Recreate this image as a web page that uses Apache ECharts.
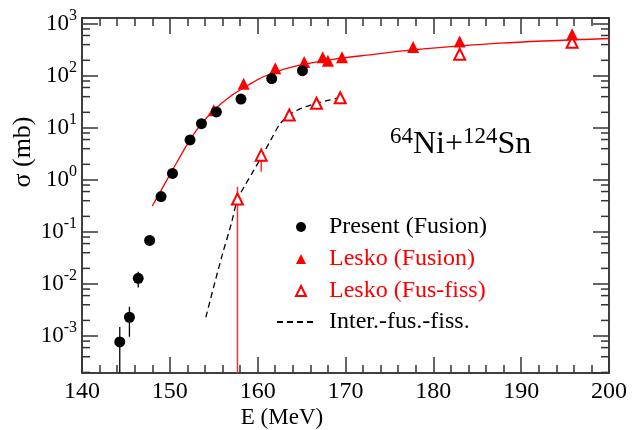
<!DOCTYPE html>
<html>
<head>
<meta charset="utf-8">
<script src="https://cdn.jsdelivr.net/npm/echarts@6/dist/echarts.min.js"></script>
<style>
  html, body { margin: 0; padding: 0; background: #fff; }
  #chart { width: 642px; height: 430px; }
</style>
</head>
<body>
<div id="chart"></div>
<script>
const FONT = 'Liberation Serif';

// Present (Fusion) - black circles
const presentE = [144.3, 145.4, 146.4, 147.7, 149.0, 150.3, 152.3, 153.6, 155.3, 158.1, 161.6, 165.1];
const presentSigma = [7.7e-4, 2.3e-3, 1.29e-2, 0.069, 0.48, 1.34, 5.9, 12.1, 20.3, 36, 89, 126];
// error bars of the lowest points (lower end of the first one runs off the axis)
const presentErrE = [144.3, 145.4, 146.4];
const presentErrLo = [1e-6, 9.7e-4, 8.6e-3];
const presentErrHi = [1.5e-3, 3.66e-3, 1.73e-2];

// Lesko (Fusion) - filled red triangles
const leskoFusE = [155.0, 158.4, 162.0, 165.3, 167.4, 168.0, 169.6, 177.7, 183.0, 195.8];
const leskoFusSigma = [22, 71, 141, 185, 229, 196, 229, 362, 458, 634];

// Lesko (Fus-fiss) - open red triangles
const leskoFFE = [157.7, 160.4, 163.6, 166.7, 169.4, 183.0, 195.8];
const leskoFFSigma = [0.43, 3.0, 17.8, 29.9, 38, 261, 444];
const leskoFFErrE = [157.7, 160.4];
const leskoFFErrLo = [1e-6, 1.44];
const leskoFFErrHi = [0.74, 4.07];

// red solid curve (fusion calc)
const fitE = [148, 149, 150, 151, 152, 153, 154, 155, 156, 157, 158, 159, 160, 161, 162, 163, 164.8, 168.6, 172.4, 177.7, 187.6, 200];
const fitSigma = [0.316, 0.631, 1.26, 2.51, 4.90, 8.91, 14.5, 21.9, 30.9, 41.7, 53.7, 67.6, 85.1, 102, 117, 135, 162, 209, 251, 316, 427, 525];

// dashed curve (Inter.-fus.-fiss.)
const interE = [154.1, 155, 156, 157, 157.7, 158.5, 159.5, 160.5, 161.5, 162.5, 163.5, 164.5, 165.5, 166.7, 168, 169.75];
const interSigma = [2.3e-3, 8.9e-3, 0.038, 0.145, 0.42, 0.76, 1.48, 2.9, 5.9, 11.7, 17.4, 21.9, 25.7, 29.9, 33.9, 39.8];

// axis
const X_MIN = 140, X_MAX = 200;
const Y_MIN = 1.95e-4, Y_MAX = 1300;
const minorMult = [2, 4, 6, 8];
const decades = [1e-4, 1e-3, 1e-2, 1e-1, 1, 10, 100];

const zip = (a, b) => a.map((v, i) => [v, b[i]]);
const zip3 = (a, b, c) => a.map((v, i) => [v, b[i], c[i]]);

// minor ticks of the log axis at 2,4,6,8 x 10^n
let minorTicks = [];
decades.forEach(d => minorMult.forEach(m => {
  const v = m * d;
  if (v >= Y_MIN && v <= Y_MAX) minorTicks.push([v]);
}));

function errorBar(color, width) {
  return function (params, api) {
    const p1 = api.coord([api.value(0), api.value(1)]);
    const p2 = api.coord([api.value(0), api.value(2)]);
    return {
      type: 'line',
      shape: { x1: p1[0], y1: p1[1], x2: p2[0], y2: p2[1] },
      style: { stroke: color, lineWidth: width }
    };
  };
}

const axisLineStyle = { color: '#000', width: 1.5 };
const tickStyle = { color: '#333', width: 1.5 };

const xAxisBase = {
  type: 'value', min: X_MIN, max: X_MAX, interval: 10,
  axisLine: { lineStyle: axisLineStyle },
  axisTick: { inside: true, length: 16, lineStyle: tickStyle },
  minorTick: { show: true, splitNumber: 5, length: 8, lineStyle: tickStyle },
  splitLine: { show: false },
  minorSplitLine: { show: false }
};

const yAxisBase = {
  type: 'log', logBase: 10, min: Y_MIN, max: Y_MAX,
  axisLine: { lineStyle: axisLineStyle },
  axisTick: { inside: true, length: 16, lineStyle: tickStyle },
  splitLine: { show: false }
};

const legendBase = {
  orient: 'vertical', padding: 0, itemHeight: 10, itemGap: 8,
  selectedMode: false, symbolKeepAspect: true
};

const chart = echarts.init(document.getElementById('chart'));

chart.setOption({
  animation: false,
  grid: { left: 82, right: 33, top: 18, bottom: 57, outerBoundsMode: 'none' },
  xAxis: [
    Object.assign({}, xAxisBase, {
      position: 'bottom',
      axisLabel: { margin: 7, color: '#000', fontFamily: FONT, fontSize: 24 }
    }),
    Object.assign({}, xAxisBase, { position: 'top', axisLabel: { show: false } })
  ],
  yAxis: [
    Object.assign({}, yAxisBase, {
      position: 'left',
      axisLabel: {
        margin: 5,
        showMinLabel: false,
        showMaxLabel: false,
        fontFamily: FONT,
        formatter: v => '{b|10}{s|' + Math.round(Math.log10(v)) + '}',
        rich: {
          b: { fontFamily: FONT, fontSize: 23, color: '#000', lineHeight: 32 },
          s: { fontFamily: FONT, fontSize: 16, color: '#000', lineHeight: 16, verticalAlign: 'top' }
        }
      }
    }),
    Object.assign({}, yAxisBase, { position: 'right', axisLabel: { show: false } })
  ],
  legend: [
    Object.assign({}, legendBase, {
      left: 295, top: 215, itemWidth: 10,
      textStyle: { fontFamily: FONT, fontSize: 24, color: '#000', padding: [0, 0, 0, 18] },
      data: [
        { name: 'Present (Fusion)' },
        { name: 'Lesko (Fusion)', textStyle: { color: '#ff0000' } },
        { name: 'Lesko (Fus-fiss)', textStyle: { color: '#ff0000' } }
      ]
    }),
    Object.assign({}, legendBase, {
      left: 276, top: 310, itemWidth: 39,
      textStyle: { fontFamily: FONT, fontSize: 24, color: '#000', padding: [0, 0, 0, 8] },
      data: [{ name: 'Inter.-fus.-fiss.', itemStyle: { opacity: 0 } }]
    })
  ],
  graphic: [
    {
      type: 'text', x: 23, y: 152, rotation: Math.PI / 2,
      style: { text: 'σ (mb)', fontFamily: FONT, fontSize: 26, fill: '#000', align: 'center', verticalAlign: 'middle' }
    },
    {
      type: 'text', x: 282, y: 418,
      style: { text: 'E (MeV)', fontFamily: FONT, fontSize: 23, fill: '#000', align: 'center', verticalAlign: 'middle' }
    },
    {
      type: 'text', x: 390, y: 145,
      style: {
        text: '{s|64}{m|Ni+}{s|124}{m|Sn}',
        verticalAlign: 'middle',
        rich: {
          m: { fontFamily: FONT, fontSize: 32, fill: '#000', lineHeight: 40 },
          s: { fontFamily: FONT, fontSize: 23, fill: '#000', lineHeight: 23, verticalAlign: 'top' }
        }
      }
    }
  ],
  series: [
    {
      name: 'fit', type: 'line', data: zip(fitE, fitSigma),
      smooth: 0.3, symbol: 'none', silent: true, z: 2,
      lineStyle: { color: '#ff0000', width: 1.3 }
    },
    {
      name: 'Inter.-fus.-fiss.', type: 'line', data: zip(interE, interSigma),
      smooth: 0.3, symbol: 'none', silent: true, z: 2,
      itemStyle: { color: '#000', opacity: 0 },
      lineStyle: { color: '#000', width: 1.3, type: [6, 4] }
    },
    {
      name: 'err-ff', type: 'custom', data: zip3(leskoFFErrE, leskoFFErrLo, leskoFFErrHi),
      encode: { x: 0, y: [1, 2] }, clip: true, silent: true, z: 3,
      renderItem: errorBar('#ff3030', 1.5)
    },
    {
      name: 'err-present', type: 'custom', data: zip3(presentErrE, presentErrLo, presentErrHi),
      encode: { x: 0, y: [1, 2] }, clip: true, silent: true, z: 3,
      renderItem: errorBar('#000', 1.3)
    },
    {
      name: 'Lesko (Fus-fiss)', type: 'scatter', data: zip(leskoFFE, leskoFFSigma),
      symbol: 'emptyTriangle', symbolSize: 11, z: 4,
      itemStyle: { color: '#ff0000', borderColor: '#ff0000', borderWidth: 1.4, opacity: 1 }
    },
    {
      name: 'Lesko (Fusion)', type: 'scatter', data: zip(leskoFusE, leskoFusSigma),
      symbol: 'triangle', symbolSize: 12, z: 4,
      itemStyle: { color: '#ff0000', opacity: 1 }
    },
    {
      name: 'Present (Fusion)', type: 'scatter', data: zip(presentE, presentSigma),
      symbol: 'circle', symbolSize: 11, z: 5,
      itemStyle: { color: '#000', opacity: 1 }
    },
    {
      name: 'minor-ticks', type: 'custom', data: minorTicks,
      encode: { y: 0 }, silent: true, z: 6,
      renderItem: function (params, api) {
        const l = api.coord([X_MIN, api.value(0)]);
        const r = api.coord([X_MAX, api.value(0)]);
        return {
          type: 'group',
          children: [
            { type: 'line', shape: { x1: l[0], y1: l[1], x2: l[0] + 8, y2: l[1] }, style: { stroke: '#333', lineWidth: 1.5 } },
            { type: 'line', shape: { x1: r[0], y1: r[1], x2: r[0] - 8, y2: r[1] }, style: { stroke: '#333', lineWidth: 1.5 } }
          ]
        };
      }
    }
  ]
});
</script>
</body>
</html>
